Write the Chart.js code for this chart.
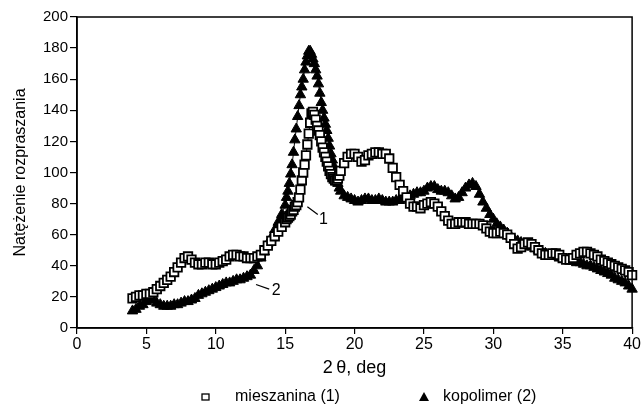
<!DOCTYPE html>
<html>
<head>
<meta charset="utf-8">
<script src="https://cdn.jsdelivr.net/npm/chart.js@4.4.1/dist/chart.umd.min.js"></script>
<style>
html,body{margin:0;padding:0;background:#fff;}
canvas{display:block;}
</style>
</head>
<body>
<canvas id="wykres" width="642" height="410"></canvas>
<script>
// katy 2theta (deg)
const katy = [
  4,4.25,4.5,4.75,5,5.25,5.5,5.75,6,6.25,6.5,6.75,7,7.25,7.5,7.75,8,8.25,8.5,8.75,
  9,9.25,9.5,9.75,10,10.25,10.5,10.75,11,11.25,11.5,11.75,12,12.25,12.5,12.75,13,13.25,13.5,13.75,
  14,14.25,14.5,14.75,15,
  15.1,15.2,15.3,15.4,15.5,15.6,15.7,15.8,15.9,16,16.1,16.2,16.3,16.4,16.5,16.6,16.7,16.8,16.9,17,
  17.1,17.2,17.3,17.4,17.5,17.6,17.7,17.8,17.9,18,18.1,18.2,18.3,18.4,18.5,18.6,18.7,18.8,18.9,19,
  19.25,19.5,19.75,20,20.25,20.5,20.75,21,21.25,21.5,21.75,22,22.25,22.5,22.75,23,23.25,23.5,23.75,24,
  24.25,24.5,24.75,25,25.25,25.5,25.75,26,26.25,26.5,26.75,27,27.25,27.5,27.75,28,28.25,28.5,28.75,29,
  29.25,29.5,29.75,30,30.25,30.5,30.75,31,31.25,31.5,31.75,32,32.25,32.5,32.75,33,33.25,33.5,33.75,34,
  34.25,34.5,34.75,35,35.25,35.5,35.75,36,36.25,36.5,36.75,37,37.25,37.5,37.75,38,38.25,38.5,38.75,39,
  39.25,39.5,39.75,40
];

const mieszanina = [
  19,20,21,21,22,22,23,25,27,29,31,33,36,39,42,45,46,44,42,41,
  41,42,42,41,41,42,43,44,46,47,47,46,46,45,45,45,46,47,50,53,
  56,59,62,65,68,
  70,71,72,73,75,76,78,79,81,84,89,95,100,105,111,118,125,132,138,139,
  137,134,130,127,124,120,116,113,110,107,104,101,99,97,96,95,95,96,98,101,
  106,110,112,112,110,107,108,111,112,113,113,112,112,109,103,97,92,88,84,80,
  78,78,77,79,80,81,80,78,75,72,69,67,67,68,68,68,67,67,67,67,
  66,64,62,61,61,62,61,60,58,54,51,52,54,55,54,52,50,48,47,47,
  48,48,47,45,44,44,45,47,48,49,49,48,47,46,44,43,42,41,40,39,
  38,37,36,34
];

const kopolimer = [
  11,12,14,15,17,18,18,16,15,14,14,14,15,15,16,17,17,18,19,21,
  22,23,24,25,26,27,28,29,29,30,31,31,32,33,34,37,40,45,49,54,
  58,63,68,73,79,
  84,88,93,99,105,113,121,128,136,143,150,155,160,166,171,175,178,178,176,173,
  170,166,162,157,151,145,140,135,131,127,122,117,112,108,104,100,96,93,90,88,
  85,84,83,82,81,82,83,83,82,82,83,82,81,81,81,82,82,83,84,85,
  86,87,87,88,90,91,91,89,88,88,87,85,83,84,87,90,92,93,91,86,
  81,77,73,70,67,65,63,61,59,57,56,55,54,53,52,51,50,49,48,47,
  47,46,45,45,44,44,43,42,42,41,40,40,39,38,37,36,35,34,32,31,
  30,29,27,25
];

const ticksX = [0,5,10,15,20,25,30,35,40];
const ticksY = [0,20,40,60,80,100,120,140,160,180,200];
const nazwySerii = ["mieszanina (1)", "kopolimer (2)"];

// oznaczenia krzywych: tekst, punkt tekstu, poczatek i koniec kreski (w jednostkach osi)
const oznaczenia = [
  {tekst:"1", x:17.75, y:70, od:[16.6,78], do:[17.35,73]},
  {tekst:"2", x:14.35, y:24, od:[12.9,28], do:[13.85,25]}
];

const czcionka = "'Liberation Sans', Arial, sans-serif";

const punkty = (ys) => katy.map((x, i) => ({x: x, y: ys[i]}));

const ramka = {
  id: 'ramka',
  afterDraw(chart) {
    const {ctx, chartArea: a} = chart;
    ctx.save();
    ctx.strokeStyle = '#000';
    ctx.lineWidth = 1.5;
    ctx.strokeRect(a.left, a.top, a.right - a.left, a.bottom - a.top);
    ctx.restore();
  }
};

const opisyKrzywych = {
  id: 'opisyKrzywych',
  afterDatasetsDraw(chart) {
    const {ctx, scales: {x, y}} = chart;
    ctx.save();
    ctx.strokeStyle = '#000';
    ctx.fillStyle = '#000';
    ctx.lineWidth = 1.2;
    ctx.font = "16px " + czcionka;
    ctx.textAlign = 'center';
    ctx.textBaseline = 'middle';
    oznaczenia.forEach(o => {
      ctx.beginPath();
      ctx.moveTo(x.getPixelForValue(o.od[0]), y.getPixelForValue(o.od[1]));
      ctx.lineTo(x.getPixelForValue(o.do[0]), y.getPixelForValue(o.do[1]));
      ctx.stroke();
      ctx.fillText(o.tekst, x.getPixelForValue(o.x), y.getPixelForValue(o.y));
    });
    ctx.restore();
  }
};

const legendaDol = {
  id: 'legendaDol',
  afterDraw(chart) {
    const ctx = chart.ctx;
    const yl = 397;
    ctx.save();
    ctx.font = "16px " + czcionka;
    ctx.textBaseline = 'middle';
    ctx.textAlign = 'left';
    ctx.fillStyle = '#000';
    ctx.strokeStyle = '#000';
    ctx.lineWidth = 1.3;
    // kwadrat
    ctx.fillStyle = '#fff';
    ctx.fillRect(202, yl - 3, 7, 6);
    ctx.strokeRect(202, yl - 3, 7, 6);
    ctx.fillStyle = '#000';
    ctx.fillText(nazwySerii[0], 235, yl);
    // trojkat
    ctx.beginPath();
    ctx.moveTo(424, yl - 5);
    ctx.lineTo(429, yl + 4);
    ctx.lineTo(419, yl + 4);
    ctx.closePath();
    ctx.fill();
    ctx.fillText(nazwySerii[1], 443, yl);
    ctx.restore();
  }
};

new Chart(document.getElementById("wykres"), {
  type: "line",
  data: {
    datasets: [
      {
        label: nazwySerii[0],
        data: punkty(mieszanina),
        showLine: true,
        borderColor: '#000',
        borderWidth: 1,
        tension: 0.3,
        pointStyle: 'rect',
        pointRadius: 6,
        pointBackgroundColor: '#fff',
        pointBorderColor: '#000',
        pointBorderWidth: 1.8,
        clip: false
      },
      {
        label: nazwySerii[1],
        data: punkty(kopolimer),
        showLine: true,
        borderColor: '#000',
        borderWidth: 1,
        tension: 0.3,
        pointStyle: 'triangle',
        pointRadius: 6,
        pointBackgroundColor: '#000',
        pointBorderColor: '#000',
        pointBorderWidth: 1,
        clip: false
      }
    ]
  },
  options: {
    responsive: false,
    animation: false,
    devicePixelRatio: 1,
    layout: { padding: { top: 17, right: 9, bottom: 28, left: 0 } },
    plugins: {
      legend: { display: false },
      tooltip: { enabled: false }
    },
    scales: {
      x: {
        type: 'linear',
        min: 0,
        max: 40,
        afterBuildTicks: s => { s.ticks = ticksX.map(v => ({value: v})); },
        afterFit: s => { s.height = 54; },
        grid: { drawOnChartArea: false, drawTicks: true, tickLength: 6, color: '#000', lineWidth: 1.2 },
        border: { color: '#000', width: 1.5 },
        ticks: { color: '#000', padding: 1, maxRotation: 0, font: { size: 16, family: czcionka } },
        title: { display: true, text: '2\u2009θ, deg', color: '#000', padding: { top: 0, bottom: 3 }, font: { size: 18, family: czcionka } }
      },
      y: {
        min: 0,
        max: 200,
        afterBuildTicks: s => { s.ticks = ticksY.map(v => ({value: v})); },
        afterFit: s => { s.width = 77; },
        grid: { drawOnChartArea: false, drawTicks: true, tickLength: 7, color: '#000', lineWidth: 1.2 },
        border: { color: '#000', width: 1.5 },
        ticks: { color: '#000', padding: 2, font: { size: 15, family: czcionka } },
        title: { display: true, text: 'Natężenie rozpraszania', color: '#000', padding: { top: 11, bottom: 0 }, font: { size: 16, family: czcionka } }
      }
    }
  },
  plugins: [ramka, opisyKrzywych, legendaDol]
});
</script>
</body>
</html>
